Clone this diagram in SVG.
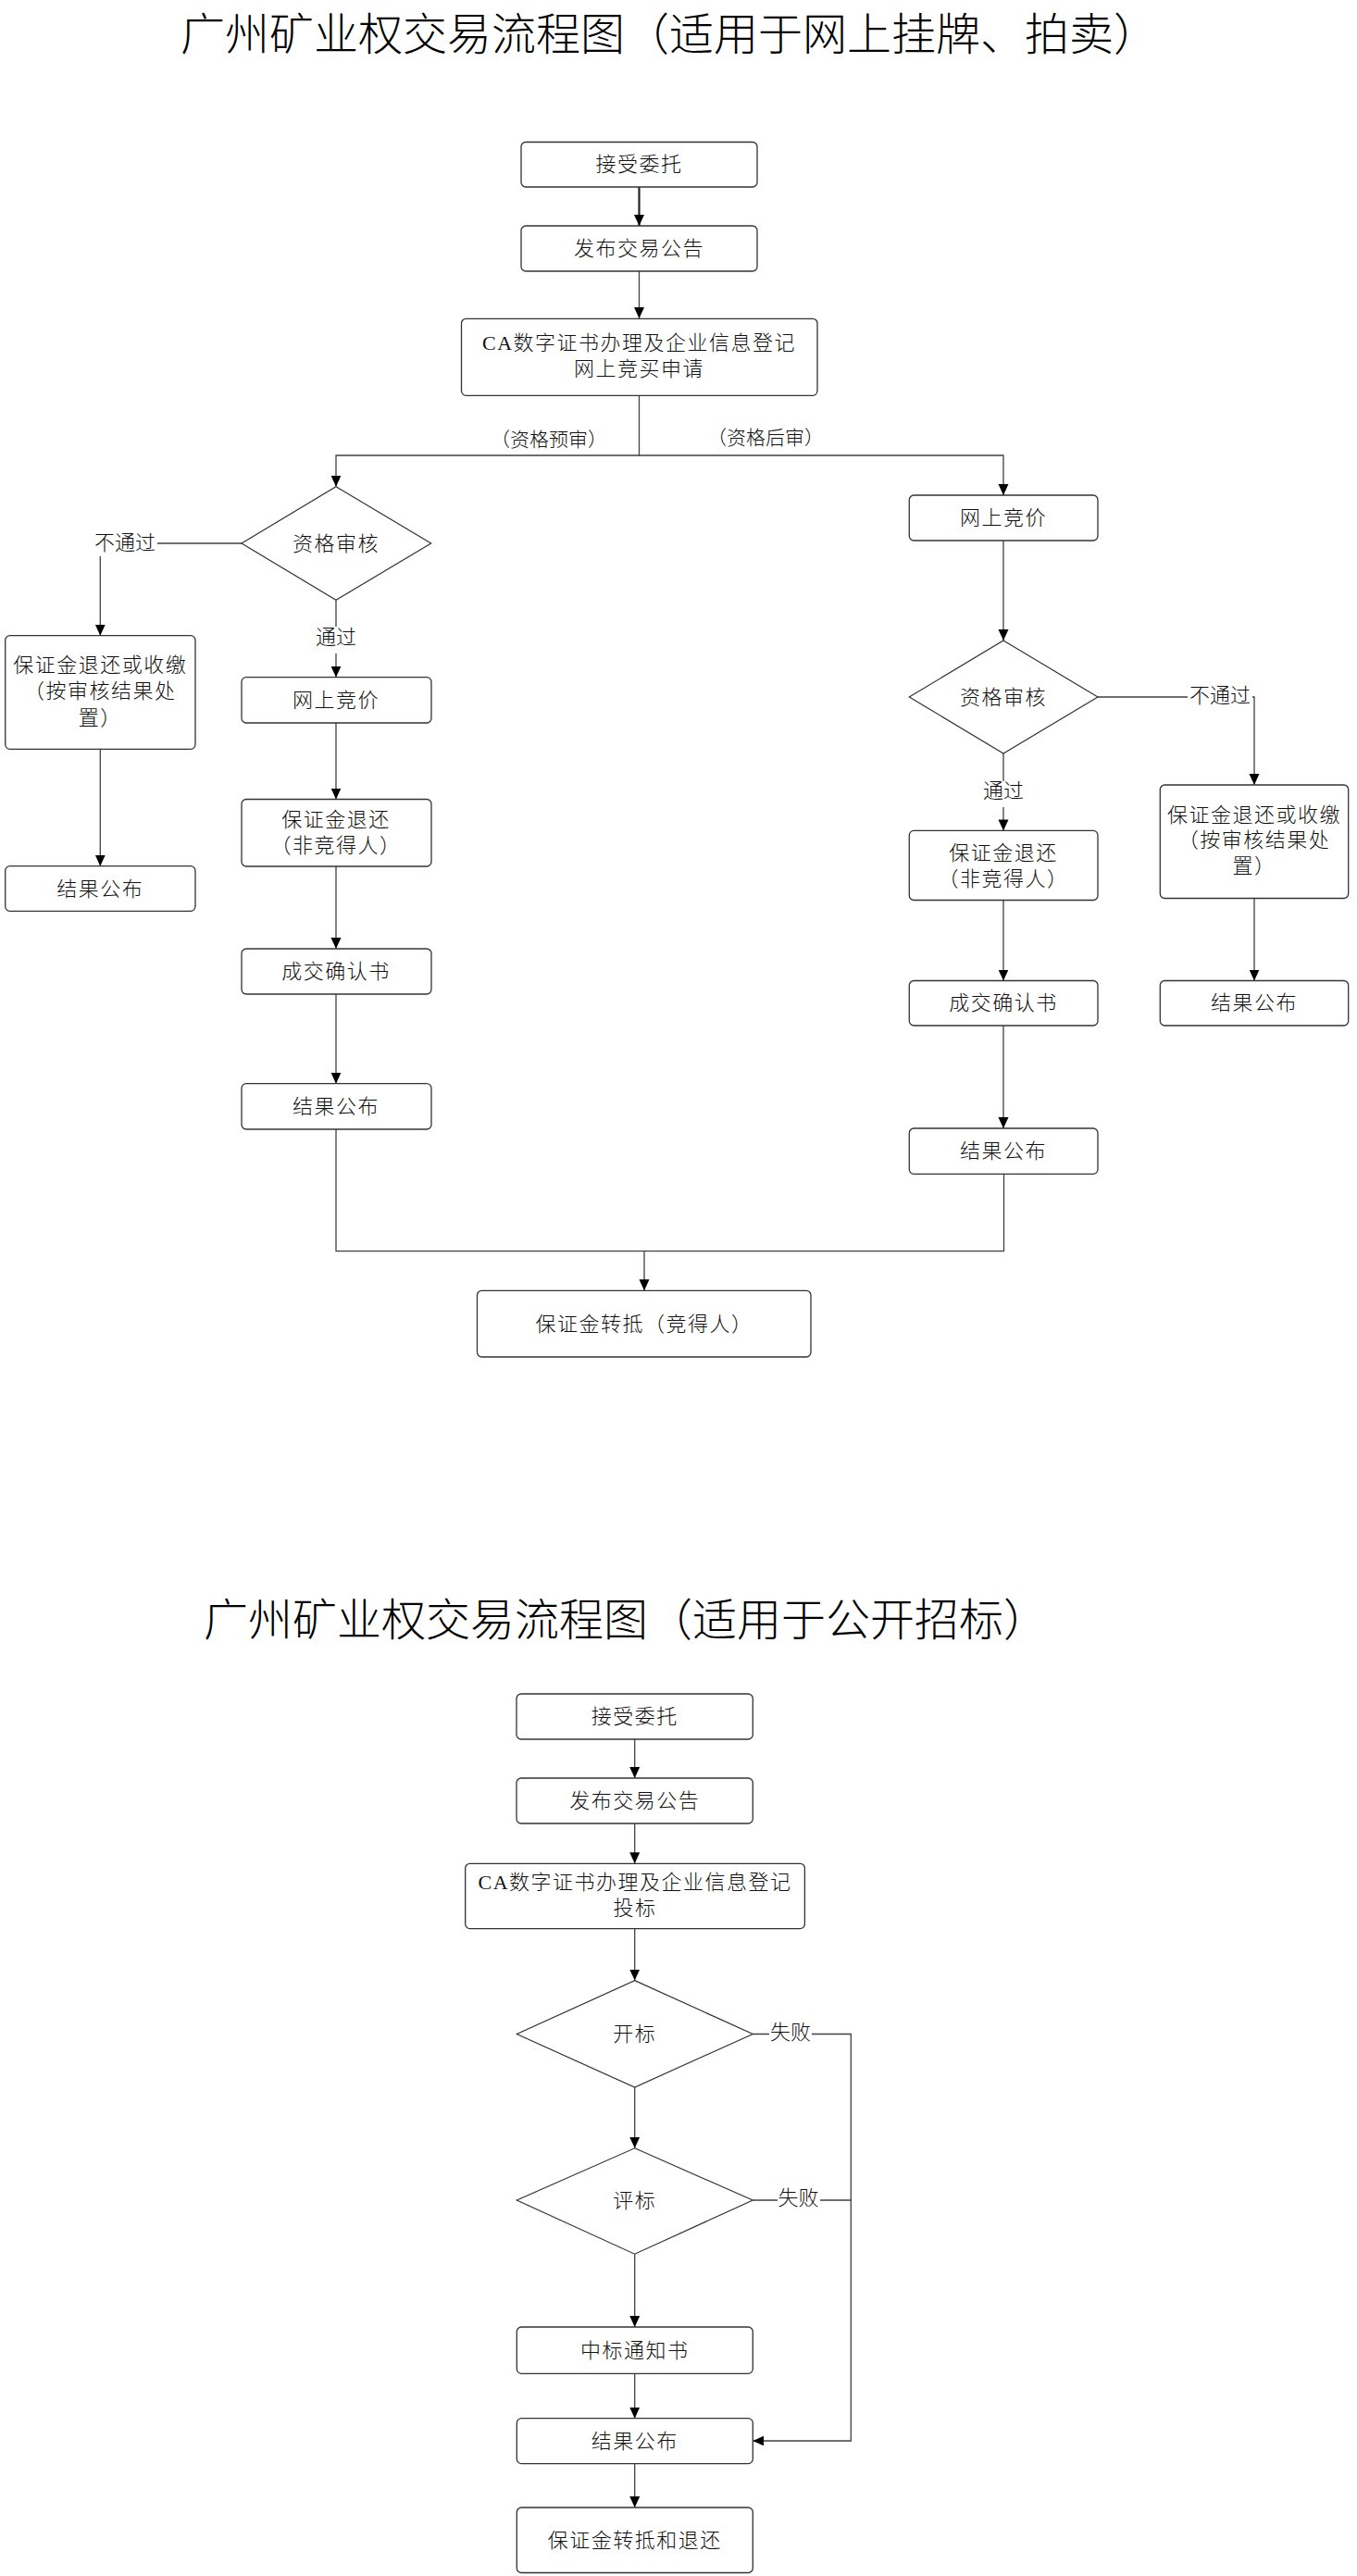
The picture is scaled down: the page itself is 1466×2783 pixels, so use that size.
<svg xmlns="http://www.w3.org/2000/svg" width="1466" height="2783" viewBox="0 0 1466 2783">
<style>
.bx{fill:#fff;stroke:#333;stroke-width:1.3}
.dm{fill:#fff;stroke:#333;stroke-width:1.2}
.t{font-family:"Liberation Serif","Noto Sans CJK SC",serif;font-size:22px;letter-spacing:1.5px;fill:#111;text-anchor:middle;dominant-baseline:central;font-weight:300}
.lb{font-family:"Liberation Serif","Noto Sans CJK SC",serif;font-size:22px;fill:#111;text-anchor:middle;dominant-baseline:central;font-weight:300}
.lb2{font-family:"Noto Sans CJK SC",sans-serif;font-size:21px;fill:#111;text-anchor:middle;dominant-baseline:central;font-weight:300}
.ti{font-family:"Liberation Serif","Noto Sans CJK SC",serif;font-size:48px;fill:#000;text-anchor:middle;dominant-baseline:central;font-weight:300}
.c{fill:none;stroke:#404040;stroke-width:1.3}
.ca{fill:none;stroke:#404040;stroke-width:1.3;marker-end:url(#ah)}
.bg{fill:#fff}
</style>
<defs>
<marker id="ah" markerUnits="userSpaceOnUse" markerWidth="12" markerHeight="12" viewBox="0 0 12 12" refX="12" refY="6" orient="auto">
<path d="M0,0.5 L12,6 L0,11.5 z" fill="#000"/>
</marker>
</defs>

<text class="ti" x="723" y="37">广州矿业权交易流程图（适用于网上挂牌、拍卖）</text>
<text class="ti" x="676" y="1750">广州矿业权交易流程图（适用于公开招标）</text>

<g id="connectors">
<path class="ca" d="M690.5,202 V244" style="stroke-width:2.2;stroke:#222"/>
<path class="ca" d="M690.5,293 V344"/>
<path class="ca" d="M690.5,427.5 V492 H363 V525.7"/>
<path class="ca" d="M690.5,492 H1084 V535"/>
<path class="ca" d="M261,587 H108.3 V686.7"/>
<path class="ca" d="M363,648.3 V731.7"/>
<path class="ca" d="M363,781 V863.5"/>
<path class="ca" d="M363,936 V1025"/>
<path class="ca" d="M363,1074 V1170.7"/>
<path class="ca" d="M108.3,809.3 V935.7"/>
<path class="c" d="M363,1220 V1351.7 H1084.5 V1268"/>
<path class="ca" d="M696,1351.7 V1394.3"/>
<path class="ca" d="M1084,584 V692"/>
<path class="ca" d="M1186,753 H1355 V848"/>
<path class="ca" d="M1084,814 V897.4"/>
<path class="ca" d="M1084,972.5 V1059.5"/>
<path class="ca" d="M1084,1108 V1219"/>
<path class="ca" d="M1355,970.5 V1059.5"/>
<path class="ca" d="M685.7,1879 V1921"/>
<path class="ca" d="M685.7,1970 V2013.3"/>
<path class="ca" d="M685.7,2083.6 V2139.6"/>
<path class="ca" d="M685.7,2255 V2320.8"/>
<path class="ca" d="M685.7,2435.2 V2514"/>
<path class="ca" d="M685.7,2564.3 V2612.7"/>
<path class="ca" d="M685.7,2661.6 V2709"/>
<path class="ca" d="M813.3,2197.5 H919.3 V2637 H813.3"/>
<path class="c" d="M813.3,2377 H919.3"/>

<text class="lb2" x="593" y="473">（资格预审）</text>
<text class="lb2" x="827" y="471">（资格后审）</text>
<rect class="bg" x="100" y="574" width="70" height="27"/>
<text class="lb" x="135" y="586">不通过</text>
<rect class="bg" x="340" y="677" width="46" height="29"/>
<text class="lb" x="363" y="688">通过</text>
<rect class="bg" x="1283" y="740" width="70" height="26"/>
<text class="lb" x="1318" y="751">不通过</text>
<rect class="bg" x="1061" y="844" width="46" height="28"/>
<text class="lb" x="1084" y="854">通过</text>
<rect class="bg" x="831" y="2184" width="46" height="26"/>
<text class="lb" x="854" y="2195">失败</text>
<rect class="bg" x="840" y="2364" width="46" height="26"/>
<text class="lb" x="862.5" y="2374">失败</text>
</g>

<g id="n1"><rect class="bx" x="563" y="153.5" width="255" height="48.5" rx="5"/><text class="t" x="690.5" y="177.5">接受委托</text></g>
<g id="n2"><rect class="bx" x="563" y="244" width="255" height="49" rx="5"/><text class="t" x="690.5" y="268.5">发布交易公告</text></g>
<g id="n3"><rect class="bx" x="498.5" y="344.3" width="384.5" height="83" rx="5"/><text class="t" x="690.5" y="370.5">CA数字证书办理及企业信息登记</text><text class="t" x="690.5" y="398.5">网上竞买申请</text></g>

<g id="n4"><polygon class="dm" points="363,525.7 465.7,587 363,648.3 261,587"/><text class="t" x="363" y="587">资格审核</text></g>
<g id="n5"><rect class="bx" x="5.7" y="686.7" width="205.3" height="122.6" rx="5"/><text class="t" x="108.3" y="718">保证金退还或收缴</text><text class="t" x="108.3" y="746.5">（按审核结果处</text><text class="t" x="108.3" y="775">置）</text></g>
<g id="n6"><rect class="bx" x="5.7" y="935.7" width="205.3" height="48.6" rx="5"/><text class="t" x="108.3" y="960">结果公布</text></g>
<g id="n7"><rect class="bx" x="261" y="731.7" width="205" height="49.3" rx="5"/><text class="t" x="363" y="756.3">网上竞价</text></g>
<g id="n8"><rect class="bx" x="261" y="863.5" width="205" height="72.5" rx="5"/><text class="t" x="363" y="885.5">保证金退还</text><text class="t" x="363" y="913.5">（非竞得人）</text></g>
<g id="n9"><rect class="bx" x="261" y="1025" width="205" height="49" rx="5"/><text class="t" x="363" y="1049.5">成交确认书</text></g>
<g id="n10"><rect class="bx" x="261" y="1170.7" width="205" height="49.3" rx="5"/><text class="t" x="363" y="1195.3">结果公布</text></g>

<g id="n11"><rect class="bx" x="982.3" y="535" width="203.7" height="49" rx="5"/><text class="t" x="1084" y="559.5">网上竞价</text></g>
<g id="n12"><polygon class="dm" points="1084,692 1186,753 1084,814 982.3,753"/><text class="t" x="1084" y="753">资格审核</text></g>
<g id="n13"><rect class="bx" x="1253.3" y="848" width="203.4" height="122.5" rx="5"/><text class="t" x="1355" y="880">保证金退还或收缴</text><text class="t" x="1355" y="907.5">（按审核结果处</text><text class="t" x="1355" y="935">置）</text></g>
<g id="n14"><rect class="bx" x="982.3" y="897.4" width="203.7" height="75.1" rx="5"/><text class="t" x="1084" y="921">保证金退还</text><text class="t" x="1084" y="949">（非竞得人）</text></g>
<g id="n15"><rect class="bx" x="982.3" y="1059.5" width="203.7" height="48.5" rx="5"/><text class="t" x="1084" y="1083.7">成交确认书</text></g>
<g id="n16"><rect class="bx" x="1253.3" y="1059.5" width="203.4" height="48.5" rx="5"/><text class="t" x="1355" y="1083.7">结果公布</text></g>
<g id="n17"><rect class="bx" x="982.3" y="1219" width="203.7" height="49.3" rx="5"/><text class="t" x="1084" y="1243.6">结果公布</text></g>
<g id="n18"><rect class="bx" x="515.5" y="1394.3" width="360.5" height="71.7" rx="5"/><text class="t" x="696" y="1430">保证金转抵（竞得人）</text></g>

<g id="m1"><rect class="bx" x="558" y="1830" width="255.3" height="49" rx="5"/><text class="t" x="685.7" y="1854.5">接受委托</text></g>
<g id="m2"><rect class="bx" x="558" y="1921" width="255.3" height="49" rx="5"/><text class="t" x="685.7" y="1945.5">发布交易公告</text></g>
<g id="m3"><rect class="bx" x="502.7" y="2013.3" width="366.7" height="70.3" rx="5"/><text class="t" x="686" y="2033.5">CA数字证书办理及企业信息登记</text><text class="t" x="686" y="2061.5">投标</text></g>
<g id="m4"><polygon class="dm" points="685.7,2139.6 813.3,2197.5 685.7,2255 558.3,2197.5"/><text class="t" x="685.7" y="2197.5">开标</text></g>
<g id="m5"><polygon class="dm" points="685.7,2320.8 813.3,2377 685.7,2435.2 558.3,2377"/><text class="t" x="685.7" y="2377">评标</text></g>
<g id="m6"><rect class="bx" x="558.3" y="2514" width="255" height="50.3" rx="5"/><text class="t" x="685.7" y="2539">中标通知书</text></g>
<g id="m7"><rect class="bx" x="558.3" y="2612.7" width="255" height="48.9" rx="5"/><text class="t" x="685.7" y="2637">结果公布</text></g>
<g id="m8"><rect class="bx" x="558.3" y="2709" width="255" height="70.5" rx="5"/><text class="t" x="685.7" y="2744">保证金转抵和退还</text></g>
</svg>
